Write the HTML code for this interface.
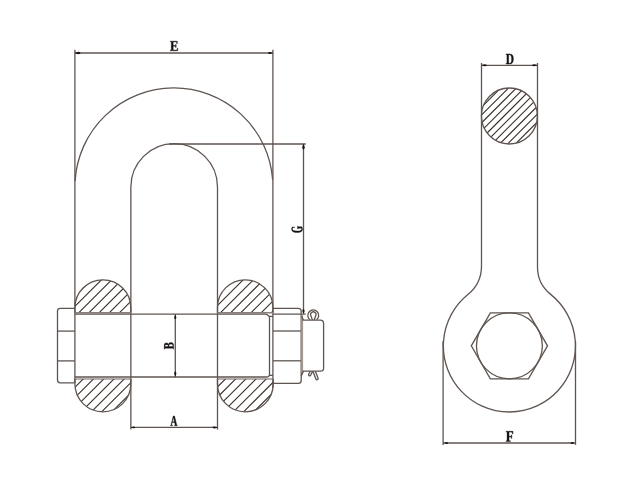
<!DOCTYPE html>
<html><head><meta charset="utf-8"><title>Shackle</title>
<style>html,body{margin:0;padding:0;background:#fff;}svg{display:block;}</style></head>
<body><svg width="632" height="483" viewBox="0 0 632 483">
<rect width="632" height="483" fill="#fff"/>
<line x1="74.90" y1="49.70" x2="74.90" y2="383.00" stroke="#5f5550" stroke-width="1.3"/>
<line x1="272.90" y1="49.70" x2="272.90" y2="388.00" stroke="#5f5550" stroke-width="1.3"/>
<line x1="74.90" y1="53.00" x2="272.90" y2="53.00" stroke="#5f5550" stroke-width="1.3"/>
<path d="M75.20,52.75 L78.20,51.85 L80.20,52.37 L80.20,53.63 L78.20,54.15 L75.20,53.25Z" fill="#1a1410"/>
<path d="M272.70,53.25 L269.88,54.10 L268.00,53.60 L268.00,52.40 L269.88,51.90 L272.70,52.75Z" fill="#1a1410"/>
<path d="M170.18 50.30 171.25 50.11V41.89L170.18 41.70V41.17H177.30V43.63H176.73L176.53 42.07Q175.83 41.97 174.51 41.97H173.21V45.51H175.40L175.60 44.44H176.15V47.41H175.60L175.40 46.31H173.21V50.03H174.79Q176.40 50.03 176.90 49.92L177.26 48.13H177.82L177.71 50.83H170.18Z" fill="#141010" stroke="#141010" stroke-width="0.35" stroke-linejoin="round"/>
<path d="M75.08,181 A99.0,99.0 0 0 1 272.62,179.5" stroke="#5f5550" stroke-width="1.3" fill="none" />
<path d="M130.85,429.5 L130.85,187.0 A43.3,43.3 0 0 1 217.5,187.0 L217.5,429.5" stroke="#5f5550" stroke-width="1.3" fill="none" />
<line x1="169.00" y1="144.00" x2="305.70" y2="144.00" stroke="#5f5550" stroke-width="1.3"/>
<line x1="303.50" y1="144.00" x2="303.50" y2="313.80" stroke="#5f5550" stroke-width="1.3"/>
<path d="M303.75,144.30 L304.70,147.24 L304.16,149.20 L302.84,149.20 L302.30,147.24 L303.25,144.30Z" fill="#1a1410"/>
<path d="M303.25,313.60 L302.40,311.02 L302.89,309.30 L304.11,309.30 L304.60,311.02 L303.75,313.60Z" fill="#1a1410"/>
<path d="M301.81 226.75Q302.14 227.30 302.33 228.03Q302.52 228.75 302.52 229.33Q302.52 230.30 301.89 231.02Q301.25 231.74 300.03 232.13Q298.82 232.52 297.15 232.52Q294.47 232.52 293.02 231.67Q291.57 230.82 291.57 229.25Q291.57 228.86 291.63 228.55Q291.69 228.23 291.78 227.96Q291.88 227.68 292.25 226.95H294.70V227.35L293.32 227.45Q292.89 227.80 292.65 228.22Q292.41 228.64 292.41 229.09Q292.41 230.12 293.56 230.59Q294.72 231.06 297.14 231.06Q299.39 231.06 300.55 230.56Q301.71 230.06 301.71 229.12Q301.71 228.61 301.43 228.15H298.34L298.13 228.91H297.54V226.18H298.13L298.34 226.75Z" fill="#141010" stroke="#141010" stroke-width="0.35" stroke-linejoin="round"/>
<clipPath id="c1"><path d="M74.9,312.8 L74.9,307.775 A27.974999999999994,27.974999999999994 0 0 1 130.85,307.775 L130.85,312.8Z"/></clipPath>
<path d="M25.60,315.00L63.60,277.00M35.78,315.00L73.78,277.00M45.96,315.00L83.96,277.00M56.14,315.00L94.14,277.00M66.32,315.00L104.32,277.00M76.50,315.00L114.50,277.00M86.68,315.00L124.68,277.00M96.86,315.00L134.86,277.00M107.04,315.00L145.04,277.00M117.22,315.00L155.22,277.00M127.40,315.00L165.40,277.00M137.58,315.00L175.58,277.00M147.76,315.00L185.76,277.00" stroke="#3a2f2a" stroke-width="1.1" fill="none" clip-path="url(#c1)"/>
<path d="M74.9,312.8 L74.9,307.775 A27.974999999999994,27.974999999999994 0 0 1 130.85,307.775 L130.85,312.8" stroke="#5f5550" stroke-width="1.3" fill="none" />
<clipPath id="c2"><path d="M217.5,312.8 L217.5,307.5 A27.69999999999999,27.69999999999999 0 0 1 272.9,307.5 L272.9,312.8Z"/></clipPath>
<path d="M167.30,315.00L205.30,277.00M177.48,315.00L215.48,277.00M187.66,315.00L225.66,277.00M197.84,315.00L235.84,277.00M208.02,315.00L246.02,277.00M218.20,315.00L256.20,277.00M228.38,315.00L266.38,277.00M238.56,315.00L276.56,277.00M248.74,315.00L286.74,277.00M258.92,315.00L296.92,277.00M269.10,315.00L307.10,277.00M279.28,315.00L317.28,277.00M289.46,315.00L327.46,277.00" stroke="#3a2f2a" stroke-width="1.1" fill="none" clip-path="url(#c2)"/>
<path d="M217.5,312.8 L217.5,307.5 A27.69999999999999,27.69999999999999 0 0 1 272.9,307.5 L272.9,312.8" stroke="#5f5550" stroke-width="1.3" fill="none" />
<clipPath id="c3"><path d="M74.9,379.0 L74.9,383.82500000000005 A27.974999999999994,27.974999999999994 0 0 0 130.85,383.82500000000005 L130.85,379.0Z"/></clipPath>
<path d="M27.70,414.00L65.70,376.00M37.95,414.00L75.95,376.00M48.20,414.00L86.20,376.00M58.45,414.00L96.45,376.00M68.70,414.00L106.70,376.00M78.95,414.00L116.95,376.00M89.20,414.00L127.20,376.00M99.45,414.00L137.45,376.00M109.70,414.00L147.70,376.00M119.95,414.00L157.95,376.00M130.20,414.00L168.20,376.00M140.45,414.00L178.45,376.00" stroke="#3a2f2a" stroke-width="1.1" fill="none" clip-path="url(#c3)"/>
<path d="M74.9,379.0 L74.9,383.82500000000005 A27.974999999999994,27.974999999999994 0 0 0 130.85,383.82500000000005 L130.85,379.0" stroke="#5f5550" stroke-width="1.3" fill="none" />
<clipPath id="c4"><path d="M217.5,379.0 L217.5,383.95000000000005 A27.849999999999994,27.849999999999994 0 0 0 273.2,383.95000000000005 L273.2,379.0Z"/></clipPath>
<path d="M170.00,414.00L208.00,376.00M180.20,414.00L218.20,376.00M190.40,414.00L228.40,376.00M200.60,414.00L238.60,376.00M210.80,414.00L248.80,376.00M221.00,414.00L259.00,376.00M231.20,414.00L269.20,376.00M241.40,414.00L279.40,376.00M251.60,414.00L289.60,376.00M261.80,414.00L299.80,376.00M272.00,414.00L310.00,376.00M282.20,414.00L320.20,376.00" stroke="#3a2f2a" stroke-width="1.1" fill="none" clip-path="url(#c4)"/>
<path d="M217.5,379.0 L217.5,383.95000000000005 A27.849999999999994,27.849999999999994 0 0 0 273.2,383.95000000000005 L273.2,379.0" stroke="#5f5550" stroke-width="1.3" fill="none" />
<line x1="74.90" y1="312.70" x2="130.85" y2="312.70" stroke="#8a807b" stroke-width="1.5"/>
<line x1="74.90" y1="379.00" x2="130.85" y2="379.00" stroke="#6f6560" stroke-width="1.15"/>
<line x1="217.50" y1="312.70" x2="272.90" y2="312.70" stroke="#8a807b" stroke-width="1.5"/>
<line x1="217.50" y1="379.00" x2="272.90" y2="379.00" stroke="#6f6560" stroke-width="1.15"/>
<line x1="74.90" y1="314.15" x2="266.10" y2="314.15" stroke="#5f5550" stroke-width="1.3"/>
<line x1="74.90" y1="377.00" x2="267.70" y2="377.00" stroke="#5f5550" stroke-width="1.3"/>
<path d="M266.1,314.0 L269.2,316.3 L273,316.3 M269.5,316.3 L269.5,375.4 L273,375.4 M269.5,375.4 L267.7,377" stroke="#5f5550" stroke-width="1.3" fill="none" />
<line x1="175.30" y1="314.00" x2="175.30" y2="377.00" stroke="#5f5550" stroke-width="1.3"/>
<path d="M175.55,314.90 L176.35,317.42 L175.88,319.10 L174.72,319.10 L174.25,317.42 L175.05,314.90Z" fill="#1a1410"/>
<path d="M175.05,376.20 L174.25,373.44 L174.72,371.60 L175.88,371.60 L176.35,373.44 L175.55,376.20Z" fill="#1a1410"/>
<path d="M166.50 344.66Q165.68 344.66 165.31 344.92Q164.95 345.19 164.95 345.81V346.54H168.22V345.76Q168.22 345.20 167.83 344.93Q167.44 344.66 166.50 344.66ZM170.84 344.12Q169.91 344.12 169.45 344.47Q168.99 344.83 168.99 345.63V346.54H172.81Q172.85 345.78 172.85 345.34Q172.85 344.72 172.36 344.42Q171.86 344.12 170.84 344.12ZM173.58 349.12H173.07L172.88 348.21H164.87L164.69 349.12H164.18V345.68Q164.18 344.26 164.68 343.59Q165.18 342.92 166.30 342.92Q167.14 342.92 167.75 343.32Q168.36 343.71 168.55 344.38Q168.69 343.39 169.26 342.88Q169.84 342.38 170.84 342.38Q172.21 342.38 172.92 343.14Q173.62 343.90 173.62 345.32L173.58 347.74Z" fill="#141010" stroke="#141010" stroke-width="0.35" stroke-linejoin="round"/>
<line x1="130.85" y1="427.40" x2="217.50" y2="427.40" stroke="#5f5550" stroke-width="1.3"/>
<path d="M131.10,427.15 L133.50,426.45 L135.10,426.88 L135.10,427.92 L133.50,428.35 L131.10,427.65Z" fill="#1a1410"/>
<path d="M217.30,427.65 L214.54,428.40 L212.70,427.95 L212.70,426.85 L214.54,426.40 L217.30,427.15Z" fill="#1a1410"/>
<path d="M172.45 425.20V425.72H170.58V425.20L171.04 425.00L173.23 415.98H174.57L176.76 425.00L177.22 425.20V425.72H174.48V425.20L175.19 425.00L174.60 422.50H172.23L171.66 425.00ZM173.43 417.43 172.42 421.71H174.43Z" fill="#141010" stroke="#141010" stroke-width="0.35" stroke-linejoin="round"/>
<path d="M74.9,308.3 L60.3,308.3 Q57.5,308.3 57.5,311.1 L57.5,380.0 Q57.5,382.8 60.3,382.8 L74.9,382.8" stroke="#5f5550" stroke-width="1.3" fill="none" />
<line x1="57.50" y1="331.10" x2="74.90" y2="331.10" stroke="#5f5550" stroke-width="1.3"/>
<line x1="57.50" y1="360.90" x2="74.90" y2="360.90" stroke="#5f5550" stroke-width="1.3"/>
<path d="M273,308.4 L298.3,308.4 Q301.2,308.4 301.2,311.3 L301.2,380.5 Q301.2,383.4 298.3,383.4 L273,383.4" stroke="#5f5550" stroke-width="1.3" fill="none" />
<line x1="273.00" y1="314.20" x2="305.70" y2="314.20" stroke="#5f5550" stroke-width="1.3"/>
<line x1="273.00" y1="331.00" x2="300.80" y2="331.00" stroke="#5f5550" stroke-width="1.3"/>
<line x1="273.00" y1="360.80" x2="300.80" y2="360.80" stroke="#5f5550" stroke-width="1.3"/>
<rect x="301.2" y="314.6" width="1.9" height="57.4" fill="#a39a94"/>
<path d="M301.5,316.3 L303.1,319.5 L303.1,320.2 L320.4,320.2 Q323.6,320.2 323.6,323.4 L323.6,367.9 Q323.6,371.1 320.4,371.1 L303.1,371.1 L303.1,372 L301.2,376" stroke="#5f5550" stroke-width="1.3" fill="none" />
<path d="M309.9,319.7 A5.45,5.45 0 1 1 316.6,319.7" stroke="#5f5550" stroke-width="1.3" fill="none" />
<path d="M312.4,320.0 L311.0,316.0 A2.7,2.7 0 1 1 315.6,316.0 L314.2,320.0" stroke="#5f5550" stroke-width="1.3" fill="none" />
<path d="M310.3,371.2 L308.6,374.3 A1.1,1.1 0 0 0 310.4,375.5 L312.6,371.4" stroke="#5f5550" stroke-width="1.3" fill="none" />
<path d="M313.0,371.4 L315.9,379.2 A1.2,1.2 0 0 0 318.1,378.5 L315.4,371.2" stroke="#5f5550" stroke-width="1.3" fill="none" />
<line x1="481.50" y1="63.00" x2="481.50" y2="266.00" stroke="#5f5550" stroke-width="1.3"/>
<line x1="537.50" y1="63.00" x2="537.50" y2="267.00" stroke="#5f5550" stroke-width="1.3"/>
<line x1="481.50" y1="65.35" x2="537.50" y2="65.35" stroke="#5f5550" stroke-width="1.3"/>
<path d="M481.80,65.10 L484.68,64.35 L486.60,64.80 L486.60,65.90 L484.68,66.35 L481.80,65.60Z" fill="#1a1410"/>
<path d="M537.20,65.60 L534.26,66.35 L532.30,65.90 L532.30,64.80 L534.26,64.35 L537.20,65.10Z" fill="#1a1410"/>
<path d="M511.58 58.99Q511.58 56.78 511.00 55.75Q510.41 54.71 509.08 54.71H508.67V63.23Q509.20 63.29 509.64 63.29Q510.36 63.29 510.78 62.86Q511.19 62.43 511.39 61.52Q511.58 60.61 511.58 58.99ZM509.51 53.88Q511.51 53.88 512.47 55.12Q513.43 56.37 513.43 58.93Q513.43 61.56 512.51 62.84Q511.59 64.12 509.74 64.12L507.25 64.09H505.98V63.54L506.93 63.33V54.63L505.98 54.43V53.88Z" fill="#141010" stroke="#141010" stroke-width="0.35" stroke-linejoin="round"/>
<clipPath id="c5"><path d="M481.4,116 A28,28 0 1 1 537.4,116 A28,28 0 1 1 481.4,116Z"/></clipPath>
<path d="M410.30,147.00L472.30,85.00M418.15,147.00L480.15,85.00M426.00,147.00L488.00,85.00M433.85,147.00L495.85,85.00M441.70,147.00L503.70,85.00M449.55,147.00L511.55,85.00M457.40,147.00L519.40,85.00M465.25,147.00L527.25,85.00M473.10,147.00L535.10,85.00M480.95,147.00L542.95,85.00M488.80,147.00L550.80,85.00M496.65,147.00L558.65,85.00M504.50,147.00L566.50,85.00M512.35,147.00L574.35,85.00M520.20,147.00L582.20,85.00M528.05,147.00L590.05,85.00M535.90,147.00L597.90,85.00M543.75,147.00L605.75,85.00M551.60,147.00L613.60,85.00" stroke="#3a2f2a" stroke-width="1.1" fill="none" clip-path="url(#c5)"/>
<circle cx="509.4" cy="116" r="28" stroke="#5f5550" stroke-width="1.3" fill="none"/>
<path d="M481.5,266.0 A36.80,36.80 0 0 1 467.85,294.61 A66.05,66.05 0 1 0 550.66,294.37 A35.05,35.05 0 0 1 537.5,267.0" stroke="#5f5550" stroke-width="1.3" fill="none" />
<polygon points="547.50,345.85 528.45,378.85 490.35,378.85 471.30,345.85 490.35,312.85 528.45,312.85" stroke="#5f5550" stroke-width="1.3" fill="none"/>
<circle cx="509.4" cy="345.85" r="32.95" stroke="#5f5550" stroke-width="1.3" fill="none"/>
<line x1="443.10" y1="341.00" x2="443.10" y2="444.90" stroke="#5f5550" stroke-width="1.3"/>
<line x1="575.50" y1="341.00" x2="575.50" y2="444.90" stroke="#5f5550" stroke-width="1.3"/>
<line x1="443.10" y1="443.00" x2="575.50" y2="443.00" stroke="#5f5550" stroke-width="1.3"/>
<path d="M444.30,442.75 L446.58,442.05 L448.10,442.48 L448.10,443.52 L446.58,443.95 L444.30,443.25Z" fill="#1a1410"/>
<path d="M574.30,443.25 L572.14,443.95 L570.70,443.52 L570.70,442.48 L572.14,442.05 L574.30,442.75Z" fill="#1a1410"/>
<path d="M509.05 437.10V440.67L510.45 440.87V441.43H506.06V440.87L507.06 440.67V432.02L505.98 431.83V431.28H513.03V434.01H512.43L512.23 432.21Q511.92 432.16 511.21 432.13Q510.50 432.11 510.09 432.11H509.05V436.26H511.11L511.30 434.98H511.86V438.40H511.30L511.11 437.10Z" fill="#141010" stroke="#141010" stroke-width="0.35" stroke-linejoin="round"/>
</svg></body></html>
